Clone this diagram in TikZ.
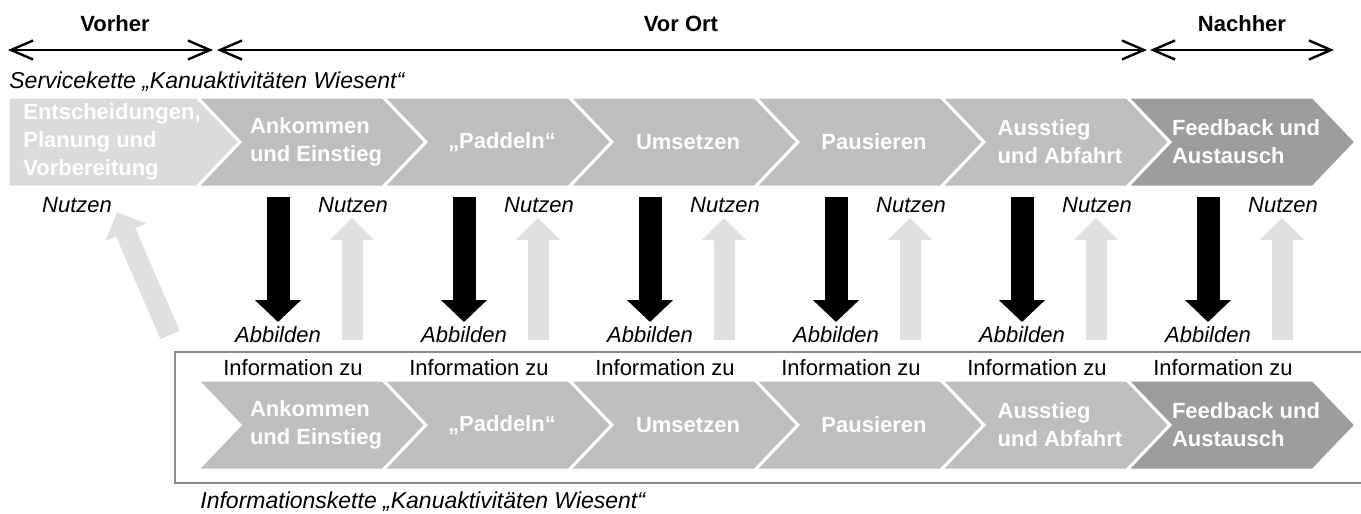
\documentclass[tikz,border=0pt]{standalone}
\usepackage{fontspec}
\setmainfont{Liberation Sans}
\usetikzlibrary{arrows.meta}
\definecolor{lightchev}{gray}{0.86}
\definecolor{midchev}{gray}{0.745}
\definecolor{darkchev}{gray}{0.61}
\definecolor{nutzgray}{gray}{0.88}
\definecolor{boxgray}{gray}{0.55}
\begin{document}
\begin{tikzpicture}[x=0.5pt, y=-0.5pt,
		chev/.style={draw=white, line width=1.5pt, line join=miter},
		chevtext/.style={text=white, font=\bfseries\fontsize{11}{14}\selectfont, align=left, inner sep=0pt},
		phase/.style={font=\bfseries\fontsize{11}{13}\selectfont, inner sep=0pt},
		span/.style={{Straight Barb[length=11pt,width=9.5pt]}-{Straight Barb[length=11pt,width=9.5pt]}, line width=1.2pt},
		lbl/.style={font=\itshape\fontsize{11}{13}\selectfont, inner sep=0pt, anchor=base},
		info/.style={font=\fontsize{11}{13}\selectfont, inner sep=0pt, anchor=base},
		caption/.style={font=\itshape\fontsize{11.5}{14}\selectfont, inner sep=0pt, anchor=base west},
		abbild/.style={line width=11.5pt, -{Triangle[length=11pt,width=22.5pt]}},
		nutz/.style={nutzgray, line width=10.5pt, -{Triangle[length=11pt,width=21.5pt]}}]
		    \useasboundingbox (0,0) rectangle (1361,514);
		    \node[phase] (vorher) at (115,24) {Vorher};
		    \node[phase] (vorort) at (681,24) {Vor Ort};
		    \node[phase] (nachher) at (1242,24) {Nachher};
		    \coordinate (p0) at (8,50);
		    \coordinate (p1a) at (213,50);
		    \coordinate (p1b) at (217,50);
		    \coordinate (p2a) at (1147,50);
		    \coordinate (p2b) at (1150,50);
		    \coordinate (p3) at (1334,50);
		    \draw[span] (p0) -- (p1a);
		    \draw[span] (p1b) -- (p2a);
		    \draw[span] (p2b) -- (p3);
		    \node[caption] (servicekette) at (9,88) {Servicekette „Kanuaktivitäten Wiesent“};
		    \draw[boxgray, line width=0.6pt] (1362,352) -- (175,352) -- (175,483) -- (1362,483);
		    \node[caption] (infokette) at (200,508) {Informationskette „Kanuaktivitäten Wiesent“};

		    \filldraw[chev, fill=lightchev] (8,97) -- (197,97) -- (240,142) -- (197,187) -- (8,187) -- cycle;
		    \node[chevtext] (s0) at (112,142) {Entscheidungen,\\Planung und\\Vorbereitung};
		    \node[lbl] (nutzen0) at (77,212) {Nutzen};
		    \coordinate (n0a) at (170,335);
		    \coordinate (n0b) at (117,212);
		    \draw[nutz] (n0a) -- (n0b);

 		    \foreach \i/\col/\txt in {1/midchev/{Ankommen\\und Einstieg}, 2/midchev/{„Paddeln“},
 		        3/midchev/{Umsetzen}, 4/midchev/{Pausieren}, 5/midchev/{Ausstieg\\und Abfahrt},
 		        6/darkchev/{Feedback und\\Austausch}} {
 		       \pgfmathsetmacro\a{240+186*(\i-1)}
 		       \pgfmathsetmacro\b{240+186*\i}
 		       \foreach \y/\row in {142/s, 425/k} {
 		          \filldraw[chev, fill=\col] ({\a-43},{\y-45}) -- ({\b-43},{\y-45}) -- (\b,\y)
 		              -- ({\b-43},{\y+45}) -- ({\a-43},{\y+45}) -- (\a,\y) -- cycle;
 		          \node[chevtext] (\row\i) at ({\a+76},\y) {\txt};
 		          }
 		       \coordinate (d\i a) at ({\a+38},197);
 		       \coordinate (d\i b) at ({\a+38},322);
 		       \coordinate (u\i a) at ({\a+112},340);
 		       \coordinate (u\i b) at ({\a+112},218);
 		       \draw[abbild] (d\i a) -- (d\i b);
 		       \draw[nutz] (u\i a) -- (u\i b);
 		       \node[lbl] (abbilden\i) at ({\a+38},342) {Abbilden};
 		       \node[lbl] (nutzen\i) at ({\a+113},212) {Nutzen};
 		       \node[info] (info\i) at ({\a+53},375) {Information zu};
 		       }
\end{tikzpicture}
\end{document}
